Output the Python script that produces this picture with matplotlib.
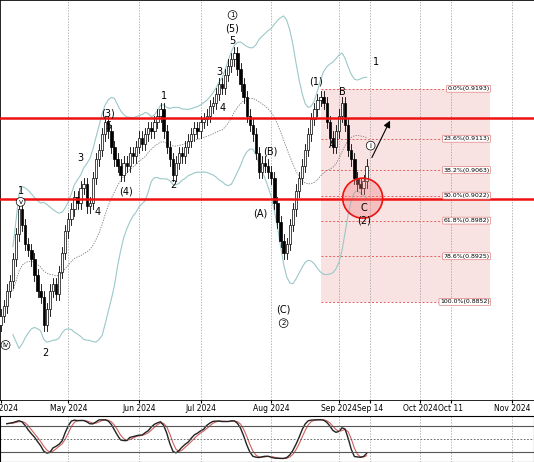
import matplotlib
matplotlib.use("Agg")
import matplotlib.pyplot as plt
import numpy as np
import pandas as pd
from matplotlib.patches import Rectangle, Ellipse

closes = [.8830,.8845,.8870,.8885,.8920,.8960,.9000,.8975,.8945,.8935,
 .8920,.8895,.8870,.8860,.8815,.8840,.8870,.8880,.8865,.8900,
 .8930,.8965,.8985,.9000,.9020,.9010,.9035,.9040,.9005,.9010,
 .9050,.9080,.9095,.9120,.9140,.9125,.9100,.9080,.9070,.9055,
 .9075,.9070,.9090,.9085,.9100,.9115,.9105,.9120,.9130,.9125,
 .9140,.9150,.9160,.9125,.9100,.9080,.9055,.9075,.9090,.9085,
 .9100,.9110,.9120,.9130,.9125,.9140,.9145,.9150,.9165,.9170,
 .9185,.9200,.9195,.9215,.9230,.9240,.9250,.9225,.9200,.9180,
 .9150,.9135,.9120,.9090,.9060,.9075,.9070,.9060,.9050,.9010,
 .8980,.8950,.8930,.8945,.8975,.9000,.9030,.9050,.9070,.9095,
 .9120,.9145,.9160,.9175,.9180,.9170,.9140,.9115,.9100,.9125,
 .9150,.9170,.9135,.9095,.9080,.9050,.9040,.9035,.9045,.9070]
first_open = 0.8815
wick = 0.0010

hlines = [0.9146, 0.9017]
fib_pct = ["0.0%", "23.6%", "38.2%", "50.0%", "61.8%", "78.6%", "100.0%"]
fib_price = [0.9193, 0.9113, 0.9063, 0.9022, 0.8982, 0.8925, 0.8852]

tick_pos = [0, 22, 45, 65, 88, 110, 120, 136.5, 146.3, 166.4]
tick_lab = ["Apr 2024", "May 2024", "Jun 2024", "Jul 2024", "Aug 2024", "Sep 2024",
            "Sep 14", "Oct 2024", "Oct 11", "Nov 2024"]

labels = [(6.5, .9030, "1"), (14.6, .8770, "2"), (26, .9082, "3"), (31.5, .8996, "4"),
          (35, .9154, "(3)"), (35, .9133, "5"), (40.6, .9028, "(4)"), (53, .9181, "1"),
          (56.2, .9039, "2"), (71, .9220, "3"), (72.2, .9162, "4"), (75.4, .9289, "(5)"),
          (75.4, .9269, "5"), (87.8, .9092, "(B)"), (84.5, .8994, "(A)"), (92, .8839, "(C)"),
          (102.4, .9204, "(1)"), (111.2, .9188, "B"), (107.9, .9103, "A"),
          (118, .9002, "C"), (118, .8983, "(2)"), (122, .9236, "1")]
circled = [(75.4, .9311, "1"), (92, .8818, "2"), (6.5, .9012, "v"), (1.6, .8783, "iv"), (120.3, .9102, "i")]

n = len(closes)
opens = [first_open] + closes[:-1]
x = np.arange(n)
c = pd.Series(closes)
hi = np.maximum(opens, closes) + wick
lo = np.minimum(opens, closes) - wick

fig = plt.figure(figsize=(5.34, 4.62), dpi=100)
ax = fig.add_axes([0, 62/462, 1, 400/462])
ax2 = fig.add_axes([0, 0, 1, 46/462])
xl = (-0.2, 173.4)

ax.add_patch(Rectangle((104, fib_price[-1]), 55, fib_price[0]-fib_price[-1],
             facecolor="#f4c6c6", alpha=0.5, edgecolor="none", zorder=0))
for p, lab in zip(fib_price, fib_pct):
    ax.plot([104, 159], [p, p], ls=(0, (2, 2)), color="#e06060", lw=0.7, zorder=1)
    ax.text(159, p, f"{lab}(0.{str(p)[2:]:0<4})", fontsize=4.5, ha="right", va="center",
            bbox=dict(boxstyle="round,pad=0.15", fc="white", ec="#e08080", lw=0.5), zorder=6)

mid = c.rolling(20, min_periods=5).mean()
sd = c.rolling(20, min_periods=5).std()
ax.plot(x, mid + 2*sd, color="#9cc8c8", lw=0.8)
ax.plot(x, mid - 2*sd, color="#9cc8c8", lw=0.8)
ax.plot(x, mid, color="#777777", lw=0.6, ls=(0, (1.5, 1.5)))

for i in range(n):
    o, cl = opens[i], closes[i]
    ax.plot([i, i], [lo[i], hi[i]], color="black", lw=0.6, zorder=3)
    up = cl >= o
    ax.add_patch(Rectangle((i-0.38, min(o, cl)), 0.76, max(abs(cl-o), 0.0002),
                 facecolor="white" if up else "black", edgecolor="black", lw=0.5, zorder=4))

for h in hlines:
    ax.axhline(h, color="#ee1111", lw=1.8, zorder=5)

ax.add_patch(Ellipse((117.7, 0.9018), 13, 0.0064, facecolor="#f08080", alpha=0.35,
                     edgecolor="none", zorder=5))
ax.add_patch(Ellipse((117.7, 0.9018), 13, 0.0064, facecolor="none",
                     edgecolor="#ee1111", lw=1.2, zorder=6))
ax.annotate("", xy=(127, 0.9146), xytext=(120.3, 0.9079),
            arrowprops=dict(arrowstyle="-|>", color="black", lw=0.8), zorder=7)

for bx, py, t in labels:
    ax.text(bx, py, t, fontsize=7, ha="center", va="center", zorder=7)
for bx, py, t in circled:
    ax.text(bx, py, t, fontsize=5, ha="center", va="center", zorder=7,
            bbox=dict(boxstyle="circle,pad=0.2", fc="white", ec="black", lw=0.5))

ax.set_xlim(*xl)
ax.set_ylim(0.8695, 0.9335)
ax.set_yticks([])
ax.set_xticks(tick_pos)
ax.set_xticklabels(tick_lab, fontsize=5.5)
ax.tick_params(axis="x", length=2, pad=1)
for t in tick_pos[1:]:
    ax.axvline(t, color="#999999", lw=0.5, ls=(0, (2, 2)), zorder=0)
for s in ax.spines.values():
    s.set_linewidth(0.6)

hs, ls_ = pd.Series(hi), pd.Series(lo)
hh = hs.rolling(14, min_periods=3).max()
ll = ls_.rolling(14, min_periods=3).min()
k = (100*(c-ll)/(hh-ll)).rolling(3, min_periods=1).mean()
d = k.rolling(3, min_periods=1).mean()
ax2.plot(x, d, color="#d06060", lw=0.8)
ax2.plot(x, k, color="#222222", lw=1.0)
for lvl in (80, 20):
    ax2.axhline(lvl, color="#555555", lw=0.8)
ax2.axhline(50, color="#555555", lw=0.6, ls=(0, (2, 2)))
for t in tick_pos[1:]:
    ax2.axvline(t, color="#999999", lw=0.5, ls=(0, (2, 2)))
ax2.set_xlim(*xl)
ax2.set_ylim(-5, 105)
ax2.set_xticks([]); ax2.set_yticks([])
fig.savefig("out.png", dpi=100)
